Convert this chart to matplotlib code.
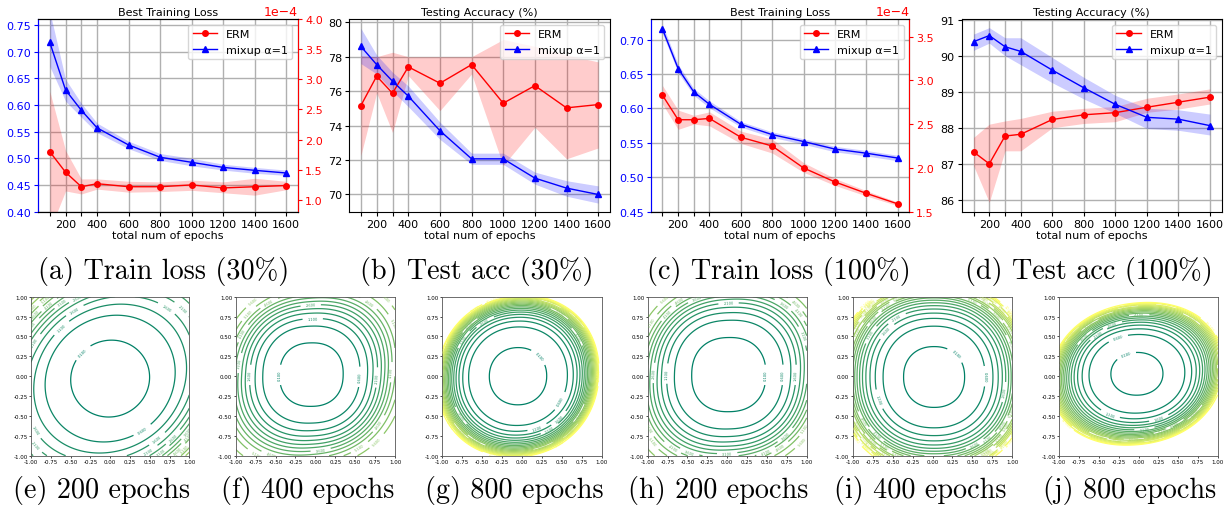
import numpy as np
import matplotlib
matplotlib.use("Agg")
from matplotlib import pyplot as plt
from matplotlib.ticker import MultipleLocator

W, H = 1229, 510

# --- datos de las curvas (paneles a-d) ---
epocas = [100, 200, 300, 400, 600, 800, 1000, 1200, 1400, 1600]
etiquetas_x = ["", "200", "", "400", "600", "800", "1000", "1200", "1400", "1600"]

# (a) perdida de entrenamiento 30%
a_mixup = [0.717, 0.628, 0.590, 0.557, 0.525, 0.502, 0.4925, 0.483, 0.4775, 0.4725]
a_mixup_sup = [0.775, 0.648, 0.603, 0.566, 0.532, 0.509, 0.500, 0.489, 0.483, 0.478]
a_mixup_inf = [0.672, 0.607, 0.577, 0.548, 0.518, 0.496, 0.486, 0.478, 0.472, 0.468]
a_erm = [1.80, 1.46, 1.22, 1.27, 1.22, 1.22, 1.25, 1.20, 1.22, 1.24]  # x1e-4
a_erm_sup = [2.80, 1.82, 1.35, 1.35, 1.31, 1.30, 1.33, 1.30, 1.36, 1.31]
a_erm_inf = [0.50, 1.15, 1.10, 1.18, 1.13, 1.14, 1.16, 1.12, 1.08, 1.17]

# (b) acc de test 30%
b_erm = [75.16, 76.87, 75.88, 77.41, 76.46, 77.54, 75.30, 76.32, 75.03, 75.22]
b_erm_sup = [78.06, 78.0, 78.26, 78.0, 78.0, 78.0, 79.0, 78.6, 78.1, 77.7]
b_erm_inf = [72.26, 75.9, 73.6, 76.9, 74.87, 77.0, 71.68, 73.9, 72.07, 72.7]
b_mixup = [78.6, 77.54, 76.58, 75.71, 73.7, 72.07, 72.07, 70.95, 70.37, 70.0]
b_mixup_sup = [79.65, 78.1, 77.1, 76.3, 74.2, 72.4, 72.4, 71.3, 70.8, 70.5]
b_mixup_inf = [77.6, 77.0, 76.0, 75.1, 73.2, 71.75, 71.75, 70.6, 69.9, 69.5]

# (c) perdida de entrenamiento 100%
c_mixup = [0.7155, 0.658, 0.624, 0.606, 0.577, 0.562, 0.552, 0.541, 0.535, 0.528]
c_mixup_sup = [0.722, 0.664, 0.629, 0.611, 0.581, 0.566, 0.556, 0.545, 0.539, 0.532]
c_mixup_inf = [0.709, 0.652, 0.619, 0.601, 0.573, 0.558, 0.548, 0.537, 0.531, 0.524]
c_erm = [2.83, 2.55, 2.55, 2.565, 2.35, 2.25, 2.00, 1.84, 1.71, 1.59]  # x1e-4
c_erm_sup = [2.94, 2.66, 2.60, 2.64, 2.42, 2.33, 2.06, 1.88, 1.74, 1.61]
c_erm_inf = [2.73, 2.44, 2.50, 2.48, 2.28, 2.17, 1.95, 1.80, 1.68, 1.57]

# (d) acc de test 100%
d_erm = [87.33, 87.0, 87.77, 87.82, 88.23, 88.36, 88.42, 88.57, 88.71, 88.85]
d_erm_sup = [87.73, 88.1, 88.19, 88.26, 88.46, 88.54, 88.59, 88.82, 88.94, 89.08]
d_erm_inf = [86.95, 85.93, 87.36, 87.36, 88.0, 88.12, 88.17, 88.43, 88.52, 88.66]
d_mixup = [90.39, 90.56, 90.25, 90.12, 89.6, 89.11, 88.65, 88.29, 88.24, 88.06]
d_mixup_sup = [90.6, 90.78, 90.5, 90.5, 89.95, 89.4, 88.9, 88.54, 88.5, 88.38]
d_mixup_inf = [90.15, 90.35, 90.0, 89.75, 89.25, 88.8, 88.4, 87.98, 87.93, 87.8]

# --- paisajes de perdida (paneles e-j), parametros leidos a ojo ---
centros_x = [0.0, -0.05, -0.05, 0.02, 0.02, -0.02]
centros_y = [-0.03, 0.02, 0.0, 0.02, -0.01, 0.03]
escala_x = [1.0, 1.0, 1.0, 1.0, 1.0, 1.1]
escala_y = [0.97, 1.0, 1.0, 1.0, 1.0, 0.9]
forma = [2.0, 2.3, 2.1, 2.3, 2.2, 2.1]        # exponente de la superelipse
sesgo = [-0.15, -0.08, -0.05, -0.06, 0.0, -0.1]
ganancia = [1.3, 4.9, 9.2, 3.6, 4.16, 10.5]
potencia = [4, 4.24, 6, 4.7, 4.5, 5]
piso = [0.02, 0.0, 0.08, 0.0, 0.045, 0.075]
techo = [8.0, 6.0, 100.0, 6.0, 100.0, 100.0]  # saturacion del valor
niveles = np.arange(0.1, 10.2, 0.5)

titulos_sup = ["(a) Train loss (30%)", "(b) Test acc (30%)",
               "(c) Train loss (100%)", "(d) Test acc (100%)"]
titulos_inf = ["(e) 200 epochs", "(f) 400 epochs", "(g) 800 epochs",
               "(h) 200 epochs", "(i) 400 epochs", "(j) 800 epochs"]


def rect(izq, der, arriba, abajo):
    return [izq / W, 1 - abajo / H, (der - izq) / W, (abajo - arriba) / H]


fig = plt.figure(figsize=(W / 100, H / 100), dpi=100)
fs = 8


def banda(ax, y, sup, inf, color, marcador, etiqueta, escala=1.0):
    y = np.array(y) * escala
    ax.fill_between(epocas, np.array(inf) * escala, np.array(sup) * escala,
                    color=color, alpha=0.2, linewidth=0)
    return ax.plot(epocas, y, color=color, marker=marcador, markersize=4,
                   linewidth=1, label=etiqueta)[0]


def formato_base(ax, titulo):
    ax.set_xticks(epocas)
    ax.set_xticklabels(etiquetas_x)
    ax.set_xlim(25, 1675)
    ax.grid(True, color="#b0b0b0", linewidth=1)
    ax.set_axisbelow(True)
    ax.set_title(titulo, fontsize=fs, pad=3)
    ax.set_xlabel("total num of epochs", fontsize=fs, labelpad=1)
    ax.tick_params(labelsize=fs, length=3, pad=2)


posiciones = [(38, 298), (349, 610), (650.7, 909.3), (961.7, 1221.7)]

# panel (a) y (c): dos ejes
for i, (mx, mxs, mxi, er, ers, eri, ylim1, ylim2, paso1) in enumerate([
        (a_mixup, a_mixup_sup, a_mixup_inf, a_erm, a_erm_sup, a_erm_inf,
         (0.40, 0.761), (0.806e-4, 4.0e-4), 0.05),
        (c_mixup, c_mixup_sup, c_mixup_inf, c_erm, c_erm_sup, c_erm_inf,
         (0.45, 0.730), (1.5e-4, 3.70e-4), 0.05)]):
    izq, der = posiciones[2 * i]
    ax = fig.add_axes(rect(izq, der, 20, 212.7))
    ax2 = ax.twinx()
    l_mix = banda(ax, mx, mxs, mxi, "b", "^", "mixup α=1")
    l_erm = banda(ax2, er, ers, eri, "r", "o", "ERM", escala=1e-4)
    formato_base(ax, "Best Training Loss")
    ax.set_ylim(*ylim1)
    ax.yaxis.set_major_locator(MultipleLocator(paso1))
    ax.yaxis.set_major_formatter(plt.FormatStrFormatter("%.2f"))
    ax.tick_params(axis="y", colors="b")
    ax.spines["left"].set_color("b")
    ax2.set_ylim(*ylim2)
    ax2.yaxis.set_major_locator(MultipleLocator(0.5e-4))
    ax2.ticklabel_format(axis="y", style="sci", scilimits=(0, 0))
    ax2.tick_params(axis="y", colors="r", labelsize=fs, length=3, pad=2)
    ax2.yaxis.get_offset_text().set_color("r")
    ax2.yaxis.get_offset_text().set_fontsize(fs + 1)
    ax2.spines["right"].set_color("r")
    ax2.spines["left"].set_color("b")
    ax2.legend([l_erm, l_mix], ["ERM", "mixup α=1"], loc="upper right",
               fontsize=fs, framealpha=0.8, handlelength=2.2)

# panel (b) y (d): precision
for i, (er, ers, eri, mx, mxs, mxi, ylim, paso) in enumerate([
        (b_erm, b_erm_sup, b_erm_inf, b_mixup, b_mixup_sup, b_mixup_inf, (69.0, 80.19), 2),
        (d_erm, d_erm_sup, d_erm_inf, d_mixup, d_mixup_sup, d_mixup_inf, (85.67, 91.02), 1)]):
    izq, der = posiciones[2 * i + 1]
    ax = fig.add_axes(rect(izq, der, 20, 212.7))
    banda(ax, er, ers, eri, "r", "o", "ERM")
    banda(ax, mx, mxs, mxi, "b", "^", "mixup α=1")
    formato_base(ax, "Testing Accuracy (%)")
    ax.set_ylim(*ylim)
    ax.yaxis.set_major_locator(MultipleLocator(paso))
    ax.legend(loc="upper right", fontsize=fs, framealpha=0.8, handlelength=2.2)

# paisajes
xs = np.linspace(-1, 1, 241)
X, Y = np.meshgrid(xs, xs)
lim_contorno = [(31, 189.3), (235.7, 395), (442.3, 601.7),
                (647.7, 806.7), (852.7, 1012.3), (1059.3, 1217.7)]
for k, (izq, der) in enumerate(lim_contorno):
    ax = fig.add_axes(rect(izq, der, 297.7, 456.7))
    dx = X - centros_x[k]
    dy = Y - centros_y[k]
    m = forma[k]
    r = (np.abs(dx / escala_x[k]) ** m + np.abs(dy / escala_y[k]) ** m) ** (1 / m)
    r = r * (1 + sesgo[k] * dx * dy)
    Z = piso[k] + techo[k] * np.tanh(ganancia[k] / techo[k] * r ** potencia[k])
    cs = ax.contour(X, Y, Z, levels=niveles, cmap="summer", linewidths=0.9)
    ax.clabel(cs, cs.levels, fontsize=2.6, fmt="%1.3f", inline=True)
    ax.set_xlim(-1, 1)
    ax.set_ylim(-1, 1)
    ticks = np.arange(-1, 1.01, 0.25)
    ax.set_xticks(ticks)
    ax.set_yticks(ticks)
    ax.xaxis.set_major_formatter(plt.FormatStrFormatter("%.2f"))
    ax.yaxis.set_major_formatter(plt.FormatStrFormatter("%.2f"))
    ax.tick_params(labelsize=4, length=1.5, width=0.5, pad=1)
    for s in ax.spines.values():
        s.set_linewidth(0.6)
        s.set_color("#555555")

# subtitulos estilo LaTeX
centros_sup = [164, 477, 779, 1089]
for c, txt in zip(centros_sup, titulos_sup):
    fig.text(c / W, 1 - 272 / H, txt, ha="center", va="center",
             fontsize=20.3, family=["cmr10", "DejaVu Serif"])
centros_inf = [102, 308, 514, 718, 920, 1130]
for c, txt in zip(centros_inf, titulos_inf):
    fig.text(c / W, 1 - 491 / H, txt, ha="center", va="center",
             fontsize=20.3, family=["cmr10", "DejaVu Serif"])

plt.savefig("out.png", dpi=100)
